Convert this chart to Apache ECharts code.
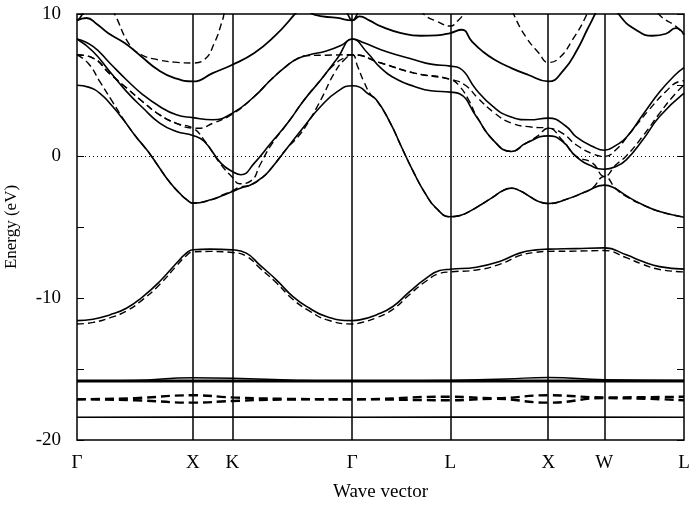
<!DOCTYPE html>
<html>
<head>
<meta charset="utf-8">
<script src="https://cdn.jsdelivr.net/npm/echarts@6/dist/echarts.min.js"></script>
<style>
  html, body { margin: 0; padding: 0; background: #fff; }
  #chart { width: 689px; height: 505px; }
</style>
</head>
<body>
<div id="chart"></div>
<script>
// high symmetry points along the path (k in units of Γ-X)
const kTicks = [0, 1.0, 1.34, 2.374, 3.219, 4.064, 4.547, 5.234]
const kLabels = ['Γ', 'X', 'K', 'Γ', 'L', 'X', 'W', 'L']

// solid bands [k, E]
const bandA = [
  [0, 4.98], [0.1, 4.85], [0.2, 4.4], [0.3, 3.55], [0.4, 2.55], [0.5, 1.45], [0.6, 0.45], [0.641, 0.0],
  [0.7, -0.7], [0.8, -1.85], [0.9, -2.75], [0.95, -3.1], [1.0, -3.32],
  [1.17, -3.05], [1.25, -2.8], [1.34, -2.5], [1.414, -2.26], [1.5, -2.03], [1.6, -1.5], [1.672, -0.9],
  [1.816, 0.6], [1.96, 2.1], [2.103, 3.5], [2.247, 4.55], [2.374, 4.95],
  [2.437, 4.85], [2.5, 4.45], [2.581, 3.96], [2.7, 2.35], [2.8, 0.6], [2.9, -1.1], [3.0, -2.6], [3.1, -3.7], [3.219, -4.28],
  [3.3, -4.2], [3.385, -3.9], [3.49, -3.4], [3.586, -2.9], [3.67, -2.45], [3.745, -2.26], [3.82, -2.45], [3.903, -2.85], [3.98, -3.2], [4.064, -3.35],
  [4.219, -3.05], [4.391, -2.5], [4.547, -2.05], [4.621, -2.2], [4.736, -2.8], [4.879, -3.44], [5.023, -3.91], [5.234, -4.31]
]
const bandB = [
  [0, 8.24], [0.138, 7.72], [0.282, 6.55], [0.426, 5.37], [0.569, 4.31], [0.713, 3.49], [0.857, 2.9], [1.0, 2.7],
  [1.17, 2.55], [1.34, 3.02], [1.529, 4.19], [1.672, 5.37], [1.816, 6.4], [1.9, 6.85], [2.006, 7.13], [2.15, 7.4], [2.28, 7.8], [2.374, 8.24],
  [2.48, 7.95], [2.621, 7.48], [2.77, 7.1], [2.909, 6.78], [3.052, 6.47], [3.219, 6.33],
  [3.299, 6.19], [3.443, 4.67], [3.586, 3.49], [3.73, 2.78], [3.903, 2.55], [4.064, 2.67],
  [4.219, 2.08], [4.302, 1.37], [4.448, 0.67], [4.547, 0.4],
  [4.647, 0.75], [4.736, 1.3], [4.879, 2.9], [5.023, 4.5], [5.15, 5.65], [5.234, 6.22]
]
const bandC = [
  [0, 8.24], [0.138, 7.36], [0.282, 5.95], [0.426, 4.55], [0.569, 3.38], [0.713, 2.32], [0.857, 1.73], [1.0, 1.45],
  [1.098, 1.02], [1.241, -0.5], [1.34, -1.09], [1.414, -1.32], [1.529, -0.5], [1.672, 0.91], [1.816, 2.32], [1.96, 3.96], [2.103, 5.37], [2.247, 6.9], [2.374, 8.24],
  [2.506, 7.25], [2.621, 6.19], [2.765, 5.37], [2.909, 4.9], [3.052, 4.59], [3.219, 4.5],
  [3.299, 4.38], [3.443, 2.78], [3.586, 1.14], [3.745, 0.32], [3.874, 0.91], [4.064, 1.42],
  [4.187, 1.02], [4.302, -0.03], [4.446, -0.74], [4.547, -0.93],
  [4.647, -0.74], [4.736, -0.27], [4.879, 1.14], [5.023, 2.78], [5.234, 4.43]
]
const bandD = [
  [0, 9.55], [0.081, 9.72], [0.17, 9.3], [0.267, 8.66], [0.411, 7.95], [0.555, 7.01], [0.698, 6.07], [0.842, 5.49], [1.0, 5.25],
  [1.17, 5.84], [1.34, 6.43], [1.529, 7.25], [1.702, 8.42], [1.874, 9.95], [2.0, 11.2]
]
const bandF = [
  [1.95, 11.0], [2.046, 9.95], [2.247, 9.72], [2.374, 9.55], [2.437, 9.83], [2.52, 9.55], [2.621, 9.13], [2.794, 8.66], [2.966, 8.47], [3.1, 8.5], [3.219, 8.66],
  [3.318, 8.89], [3.405, 8.07], [3.5, 7.35], [3.601, 6.78], [3.745, 6.19], [3.888, 5.72], [4.064, 5.25],
  [4.198, 6.07], [4.313, 7.48], [4.399, 8.89], [4.457, 9.83], [4.52, 11.0]
]
const bandG = [[4.62, 11.0], [4.675, 9.95], [4.818, 8.89], [4.963, 8.47], [5.078, 8.61], [5.164, 9.01], [5.2, 8.9], [5.234, 8.55]]
const bandH1 = [[0, 9.55], [0.04, 9.9], [0.09, 11.0]]
const bandH2 = [[2.29, 11.0], [2.34, 9.9], [2.374, 9.55], [2.41, 9.9], [2.46, 11.0]]
const bandS = [
  [0, -11.59], [0.138, -11.5], [0.282, -11.19], [0.426, -10.72], [0.569, -9.9], [0.713, -8.84], [0.857, -7.55], [0.943, -6.84], [1.0, -6.6],
  [1.144, -6.56], [1.34, -6.61], [1.46, -6.84], [1.575, -7.67], [1.719, -8.72], [1.862, -9.9], [2.006, -10.72], [2.15, -11.31], [2.374, -11.59],
  [2.437, -11.54], [2.581, -11.19], [2.724, -10.6], [2.868, -9.55], [3.012, -8.6], [3.127, -8.07], [3.219, -7.97],
  [3.443, -7.83], [3.644, -7.43], [3.816, -6.84], [3.96, -6.61], [4.064, -6.56], [4.3, -6.52], [4.547, -6.47],
  [4.736, -6.96], [4.879, -7.43], [5.023, -7.79], [5.234, -7.97]
]
const coreLow = [[0, -18.4], [1.0, -18.38], [2.374, -18.4], [4.064, -18.38], [5.234, -18.4]]
const coreD1 = [[0, -15.85], [1.0, -15.85], [2.374, -15.85], [4.064, -15.85], [5.234, -15.85]]
const coreD2 = [[0, -15.85], [0.5, -15.8], [1.0, -15.62], [1.34, -15.65], [1.9, -15.8], [2.374, -15.85], [3.219, -15.8], [3.7, -15.7], [4.064, -15.6], [4.547, -15.75], [5.234, -15.8]]

// dashed bands [k, E]
const dashA = [
  [0, 7.13], [0.1, 6.5], [0.2, 5.2], [0.3, 3.9], [0.4, 2.6], [0.5, 1.45], [0.6, 0.45], [0.641, 0.0],
  [0.7, -0.7], [0.8, -1.85], [0.9, -2.75], [0.95, -3.1], [1.0, -3.32],
  [1.17, -3.05], [1.25, -2.75], [1.34, -2.45], [1.4, -2.2], [1.5, -2.03], [1.6, -1.5], [1.672, -0.9], [1.816, 0.6],
  [1.9, 1.3], [1.989, 2.32], [2.103, 3.96], [2.219, 5.84], [2.305, 6.78], [2.374, 7.13],
  [2.42, 6.3], [2.47, 5.3], [2.534, 4.3], [2.581, 3.96], [2.7, 2.35], [2.8, 0.6], [2.9, -1.1], [3.0, -2.6], [3.1, -3.7], [3.219, -4.28],
  [3.3, -4.2], [3.385, -3.9], [3.49, -3.4], [3.586, -2.9], [3.67, -2.45], [3.745, -2.26], [3.82, -2.45], [3.903, -2.85], [3.98, -3.2], [4.064, -3.35],
  [4.219, -3.05], [4.391, -2.5], [4.446, -2.25], [4.547, -1.44], [4.647, -2.3], [4.736, -2.85], [4.879, -3.44], [5.023, -3.91], [5.234, -4.31]
]
const dashB = [
  [0, 7.13], [0.138, 6.9], [0.282, 5.8], [0.426, 4.8], [0.569, 3.8], [0.713, 2.9], [0.857, 2.3], [1.0, 1.96],
  [1.05, 1.95], [1.17, 2.3], [1.34, 2.95], [1.529, 4.19], [1.672, 5.37], [1.816, 6.4], [1.9, 6.85], [1.96, 7.05], [2.15, 7.1], [2.374, 7.13],
  [2.621, 6.55], [2.909, 5.84], [3.219, 5.4],
  [3.342, 5.02], [3.457, 4.08], [3.601, 3.02], [3.745, 2.32], [3.917, 2.04], [4.064, 1.96],
  [4.187, 1.6], [4.302, 0.8], [4.446, 0.15], [4.547, -0.03],
  [4.647, 0.44], [4.791, 1.85], [4.934, 3.26], [5.078, 4.55], [5.193, 5.25], [5.234, 5.3]
]
const dashC = [
  [0, 7.13], [0.138, 6.9], [0.282, 5.8], [0.426, 4.8], [0.569, 3.8], [0.713, 2.9], [0.857, 2.3], [1.0, 1.96],
  [1.098, 1.1], [1.241, -0.6], [1.34, -1.5], [1.4, -1.95], [1.5, -1.75], [1.58, -0.6], [1.672, 0.75], [1.816, 2.32], [1.96, 3.96], [2.103, 5.37], [2.2, 6.3], [2.3, 6.9], [2.374, 7.13],
  [2.621, 6.55], [2.909, 5.84], [3.219, 5.4],
  [3.3, 4.9], [3.38, 3.9], [3.443, 2.85], [3.586, 1.14], [3.745, 0.32], [3.874, 0.91], [3.97, 1.4], [4.064, 1.96],
  [4.187, 1.1], [4.302, 0.0], [4.446, -0.5], [4.547, -1.44],
  [4.647, -0.62], [4.736, 0.0], [4.879, 1.4], [5.023, 3.0], [5.15, 4.3], [5.234, 5.0]
]
const dashE = [
  [0.25, 11.0], [0.32, 10.07], [0.453, 7.84], [0.555, 7.13], [0.698, 6.78], [0.842, 6.61], [1.0, 6.55],
  [1.098, 6.78], [1.184, 7.95], [1.256, 9.6], [1.31, 11.0], [2.9, 11.0], [2.995, 9.95], [3.1, 9.5], [3.219, 9.15], [3.28, 9.5], [3.34, 10.07], [3.4, 11.0],
  [3.72, 11.0], [3.767, 9.95], [3.868, 8.42], [3.982, 7.25], [4.064, 6.59], [4.158, 6.9], [4.273, 8.19], [4.388, 9.83], [4.44, 11.0],
  [4.95, 11.0], [5.021, 9.95], [5.164, 9.13], [5.234, 8.55]
]
const dashS = [
  [0, -11.83], [0.138, -11.72], [0.282, -11.4], [0.426, -10.92], [0.569, -10.1], [0.713, -9.05], [0.857, -7.75], [0.943, -7.02], [1.0, -6.75],
  [1.144, -6.72], [1.34, -6.8], [1.46, -7.05], [1.575, -7.88], [1.719, -8.93], [1.862, -10.1], [2.006, -10.92], [2.15, -11.52], [2.374, -11.83],
  [2.437, -11.76], [2.581, -11.4], [2.724, -10.8], [2.868, -9.75], [3.012, -8.8], [3.127, -8.27], [3.219, -8.16],
  [3.443, -8.03], [3.644, -7.63], [3.816, -7.02], [3.96, -6.78], [4.064, -6.72], [4.3, -6.7], [4.547, -6.66],
  [4.736, -7.16], [4.879, -7.63], [5.023, -7.99], [5.234, -8.16]
]
const dashCore1 = [[0, -17.13], [0.5, -17.05], [1.0, -16.85], [1.34, -17.0], [1.8, -17.1], [2.374, -17.13], [3.219, -16.95], [3.6, -17.05], [4.064, -16.85], [4.547, -17.0], [5.234, -16.95]]
const dashCore2 = [[0, -17.13], [0.5, -17.2], [1.0, -17.37], [1.34, -17.25], [1.8, -17.15], [2.374, -17.13], [3.219, -17.2], [3.6, -17.1], [4.064, -17.37], [4.547, -17.05], [5.234, -17.2]]

const serif = 'Liberation Serif'

const chart = echarts.init(document.getElementById('chart'), null, { renderer: 'canvas' })

const makeLine = (data, dashed, width) => ({
  type: 'line',
  data: data,
  showSymbol: false,
  smooth: 0.5,
  silent: true,
  clip: true,
  lineStyle: { color: '#000', width: width, type: dashed ? dashed : 'solid' },
})

const series = [
  makeLine(bandA, null, 1.6),
  makeLine(bandB, null, 1.6),
  makeLine(bandC, null, 1.6),
  makeLine(bandD, null, 1.8),
  makeLine(bandF, null, 1.8),
  makeLine(bandG, null, 1.8),
  makeLine(bandH1, null, 1.6),
  makeLine(bandH2, null, 1.6),
  makeLine(bandS, null, 1.6),
  makeLine(coreD1, null, 3),
  makeLine(coreD2, null, 1.4),
  makeLine(dashA, [7, 4], 1.4),
  makeLine(dashB, [7, 4], 1.4),
  makeLine(dashC, [7, 4], 1.4),
  makeLine(dashE, [7, 4], 1.4),
  makeLine(dashS, [7, 4], 1.4),
  makeLine(dashCore1, [9, 5], 2.4),
  makeLine(dashCore2, [9, 5], 2.4),
]

// lowest band carries the vertical lines, an empty series the zero line
const low = makeLine(coreLow, null, 1.6)
low.markLine = {
  silent: true,
  symbol: ['none', 'none'],
  label: { show: false },
  lineStyle: { color: '#000', width: 1.5, type: 'solid' },
  data: kTicks.slice(1, -1).map((k) => ({ xAxis: k })),
}
series.push(low)
series.push({
  type: 'line',
  data: [],
  silent: true,
  markLine: {
    silent: true,
    symbol: ['none', 'none'],
    label: { show: false },
    lineStyle: { color: '#000', width: 1, type: [1, 3] },
    data: [{ yAxis: 0 }],
  },
})

const option = {
  animation: false,
  backgroundColor: '#fff',
  grid: {
    left: 77, right: 5, top: 14, bottom: 65,
    outerBoundsMode: 'none',
    containLabel: false,
    show: true, borderColor: '#000', borderWidth: 1.5,
  },
  xAxis: {
    type: 'value',
    min: 0,
    max: 5.234,
    axisLine: { show: false },
    axisTick: { show: false },
    splitLine: { show: false },
    axisLabel: {
      customValues: kTicks,
      formatter: (v) => kLabels[kTicks.indexOf(v)],
      fontFamily: serif,
      fontSize: 19,
      color: '#000',
      margin: 14,
    },
    name: 'Wave vector',
    nameLocation: 'middle',
    nameGap: 43,
    nameTextStyle: { fontFamily: serif, fontSize: 19, color: '#000' },
  },
  yAxis: [
    {
      type: 'value',
      min: -20,
      max: 10,
      interval: 5,
      position: 'left',
      axisLine: { show: false },
      axisTick: { inside: true, length: 7, lineStyle: { color: '#000', width: 1 } },
      splitLine: { show: false },
      axisLabel: {
        formatter: (v) => (v % 10 === 0 ? String(v) : ''),
        fontFamily: serif,
        fontSize: 19,
        color: '#000',
        margin: 16,
      },
      name: 'Energy (eV)',
      nameLocation: 'middle',
      nameGap: 57,
      nameTextStyle: { fontFamily: serif, fontSize: 17, color: '#000' },
    },
    {
      type: 'value',
      min: -20,
      max: 10,
      interval: 5,
      position: 'right',
      axisLine: { show: false },
      axisTick: { inside: true, length: 7, lineStyle: { color: '#000', width: 1 } },
      splitLine: { show: false },
      axisLabel: { show: false },
    },
  ],
  series: series,
}

chart.setOption(option)
</script>
</body>
</html>
